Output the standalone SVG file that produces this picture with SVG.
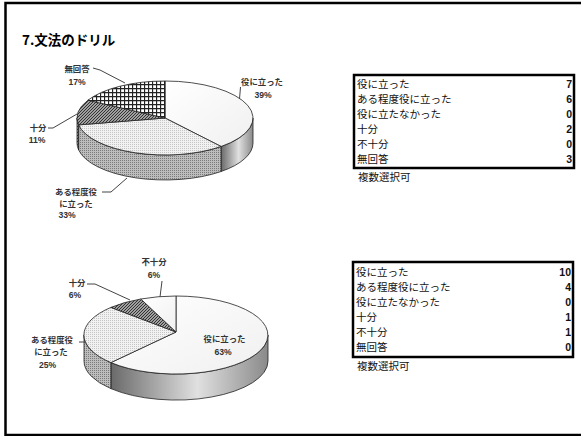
<svg xmlns="http://www.w3.org/2000/svg" width="581" height="436" viewBox="0 0 581 436">
<style>
.t{font-family:"Noto Sans CJK JP","Liberation Sans",sans-serif;fill:#000}
.lbl{font-family:"Noto Sans CJK JP","Liberation Sans",sans-serif;font-size:8.4px;fill:#333;font-weight:bold;text-anchor:middle}
.pct{font-family:"Liberation Sans",sans-serif;font-size:8.6px;fill:#333;font-weight:bold;text-anchor:middle}
.tb{font-family:"Noto Sans CJK JP","Liberation Sans",sans-serif;font-size:10.5px;fill:#111}
.num{font-family:"Liberation Sans",sans-serif;font-size:10.5px;font-weight:bold;fill:#111;text-anchor:end}
.edge{stroke:#222;stroke-width:0.8;stroke-linejoin:round}
.lead{fill:none;stroke:#444;stroke-width:1}
.box{fill:#fff;stroke:#000;stroke-width:2.5}
</style>
<defs>
<pattern id="pDots" width="2" height="2" patternUnits="userSpaceOnUse"><rect width="2" height="2" fill="#f2f2f2"/><rect width="1" height="1" fill="#c4c4c4"/></pattern>
<pattern id="pDotsSide" width="2" height="2" patternUnits="userSpaceOnUse"><rect width="2" height="2" fill="#bdbdbd"/><rect width="1" height="1" fill="#7a7a7a"/></pattern>
<pattern id="pHatch" width="3" height="3" patternUnits="userSpaceOnUse"><rect width="3" height="3" fill="#cfcfcf"/><path d="M-1,1 L1,-1 M0,3 L3,0 M2,4 L4,2" stroke="#2a2a2a" stroke-width="1.1"/></pattern>
<pattern id="pCross" width="4" height="4" patternUnits="userSpaceOnUse"><rect width="4" height="4" fill="#fff"/><path d="M0,0.5 H4 M0.5,0 V4" stroke="#222" stroke-width="1.3"/></pattern>
<linearGradient id="gSide" x1="0" y1="0" x2="1" y2="0"><stop offset="0" stop-color="#6a6a6a"/><stop offset="0.55" stop-color="#e0e0e0"/><stop offset="1" stop-color="#8a8a8a"/></linearGradient>
<linearGradient id="gTop" x1="0" y1="0" x2="1" y2="1"><stop offset="0" stop-color="#ffffff"/><stop offset="1" stop-color="#f0f0f0"/></linearGradient>
</defs>
<rect width="581" height="436" fill="#fff"/>
<g id="frame" fill="none" stroke="#000" stroke-width="2.5">
<path d="M581,3 H5.5 V435 H581"/>
</g>
<g id="title"><text class="t" x="22" y="45" font-size="13.5" font-weight="bold">7.文法のドリル</text></g>

<g id="pie1">
<path class="edge" fill="url(#gSide)" d="M253,118 A88,37 0 0 1 221.1,146.5 L221.1,171.5 A88,37 0 0 0 253,143 Z"/>
<path class="edge" fill="url(#pDotsSide)" d="M221.1,146.5 A88,37 0 0 1 78.6,124.9 L78.6,149.9 A88,37 0 0 0 221.1,171.5 Z"/>
<path class="edge" fill="url(#pHatch)" d="M78.6,124.9 A88,37 0 0 1 77,118 L77,143 A88,37 0 0 0 78.6,149.9 Z"/>
<path class="edge" fill="url(#gTop)" d="M165,118 L165,81 A88,37 0 0 1 221.1,146.5 Z"/>
<path class="edge" fill="url(#pDots)" d="M165,118 L221.1,146.5 A88,37 0 0 1 78.6,124.9 Z"/>
<path class="edge" fill="url(#pHatch)" d="M165,118 L78.6,124.9 A88,37 0 0 1 87.9,100.2 Z"/>
<path class="edge" fill="url(#pCross)" d="M165,118 L87.9,100.2 A88,37 0 0 1 165,81 Z"/>
</g>
<g id="pie2">
<path class="edge" fill="url(#gSide)" d="M268,335 A92,39 0 0 1 110.9,362.6 L110.9,388.6 A92,39 0 0 0 268,361 Z"/>
<path class="edge" fill="url(#pDotsSide)" d="M110.9,362.6 A92,39 0 0 1 84,335 L84,361 A92,39 0 0 0 110.9,388.6 Z"/>
<path class="edge" fill="url(#gTop)" d="M176,332 L176,296 A92,39 0 1 1 110.9,362.6 Z"/>
<path class="edge" fill="url(#pDots)" d="M176,332 L110.9,362.6 A92,39 0 0 1 110.9,307.4 Z"/>
<path class="edge" fill="url(#pHatch)" d="M176,332 L110.9,307.4 A92,39 0 0 1 140.8,299 Z"/>
<path class="edge" fill="url(#gTop)" d="M176,332 L140.8,299 A92,39 0 0 1 176,296 Z"/>
</g>

<g id="connectors">
<polyline class="lead" points="93,68 100,70 125,83"/>
<polyline class="lead" points="240.5,87 239.5,99"/>
<polyline class="lead" points="48,128 53,128 77,114"/>
<polyline class="lead" points="102,192 111,192 127,178"/>
<polyline class="lead" points="162,281 160,297"/>
<polyline class="lead" points="87,284 95,284 130,300"/>
<polyline class="lead" points="79,342 85,342"/>
</g>

<g id="labels1">
<text class="lbl" x="77" y="72">無回答</text><text class="pct" x="77" y="85">17%</text>
<text class="lbl" x="262" y="85">役に立った</text><text class="pct" x="263" y="98">39%</text>
<text class="lbl" x="38" y="131">十分</text><text class="pct" x="37" y="143">11%</text>
<text class="lbl" x="76" y="195">ある程度役</text><text class="lbl" x="76" y="207">に立った</text><text class="pct" x="67" y="218">33%</text>
</g>
<g id="labels2">
<text class="lbl" x="154" y="265">不十分</text><text class="pct" x="154" y="278">6%</text>
<text class="lbl" x="77" y="286">十分</text><text class="pct" x="75" y="298">6%</text>
<text class="lbl" x="52" y="343">ある程度役</text><text class="lbl" x="51" y="355">に立った</text><text class="pct" x="47.5" y="368">25%</text>
<text class="lbl" x="224.5" y="342">役に立った</text><text class="pct" x="223" y="355">63%</text>
</g>

<g id="table1">
<rect class="box" x="354" y="75" width="220" height="93"/>
<text class="tb" x="357" y="88">役に立った</text><text class="num" x="572" y="88">7</text>
<text class="tb" x="357" y="103">ある程度役に立った</text><text class="num" x="572" y="103">6</text>
<text class="tb" x="357" y="118">役に立たなかった</text><text class="num" x="572" y="118">0</text>
<text class="tb" x="357" y="133">十分</text><text class="num" x="572" y="133">2</text>
<text class="tb" x="357" y="148">不十分</text><text class="num" x="572" y="148">0</text>
<text class="tb" x="357" y="163">無回答</text><text class="num" x="572" y="163">3</text>
<text class="tb" x="358" y="181">複数選択可</text>
</g>
<g id="table2">
<rect class="box" x="353" y="262" width="220" height="95"/>
<text class="tb" x="356" y="276">役に立った</text><text class="num" x="571" y="276">10</text>
<text class="tb" x="356" y="291">ある程度役に立った</text><text class="num" x="571" y="291">4</text>
<text class="tb" x="356" y="306">役に立たなかった</text><text class="num" x="571" y="306">0</text>
<text class="tb" x="356" y="321">十分</text><text class="num" x="571" y="321">1</text>
<text class="tb" x="356" y="336">不十分</text><text class="num" x="571" y="336">1</text>
<text class="tb" x="356" y="351">無回答</text><text class="num" x="571" y="351">0</text>
<text class="tb" x="357" y="370">複数選択可</text>
</g>
</svg>
